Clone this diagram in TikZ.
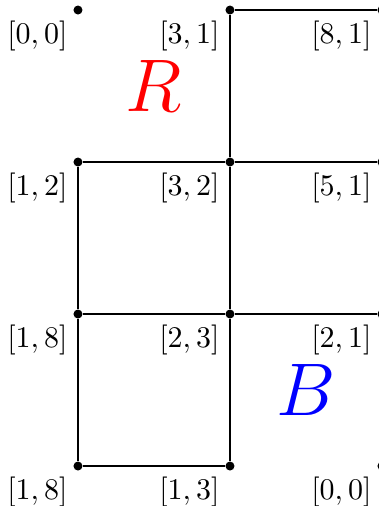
\documentclass[tikz,border=0pt]{standalone}
\usepackage{xcolor}
\usepackage{tikz}
\tikzset{
  pt/.style    = {circle, fill=black, inner sep=0pt, minimum size=3pt},
  tag/.style   = {anchor=north east, inner sep=3.33pt},
  edge/.style  = {draw=black, line width=0.45pt},
  big/.style   = {font=\Huge},
}

\begin{document}
\begin{tikzpicture}[x=1.781cm, y=1.781cm]

  \useasboundingbox (-0.513,0.066) rectangle (1.980,-3.263);

  % grid points
  \node[pt] (a0) at (0,0)  {};
  \node[pt] (b0) at (1,0)  {};
  \node[pt] (c0) at (2,0)  {};
  \node[pt] (a1) at (0,-1) {};
  \node[pt] (b1) at (1,-1) {};
  \node[pt] (c1) at (2,-1) {};
  \node[pt] (a2) at (0,-2) {};
  \node[pt] (b2) at (1,-2) {};
  \node[pt] (c2) at (2,-2) {};
  \node[pt] (a3) at (0,-3) {};
  \node[pt] (b3) at (1,-3) {};
  \node[pt] (c3) at (2,-3) {};

  % edges
  \draw[edge] (b0) -- (c0);
  \draw[edge] (b0) -- (b1);
  \draw[edge] (a1) -- (b1) -- (c1);
  \draw[edge] (a1) -- (a2) -- (a3);
  \draw[edge] (b1) -- (b2) -- (b3);
  \draw[edge] (a2) -- (b2) -- (c2);
  \draw[edge] (a3) -- (b3);

  % labels
  \node[tag] at (a0.center) {$[0,0]$};
  \node[tag] at (b0.center) {$[3,1]$};
  \node[tag] at (c0.center) {$[8,1]$};
  \node[tag] at (a1.center) {$[1,2]$};
  \node[tag] at (b1.center) {$[3,2]$};
  \node[tag] at (c1.center) {$[5,1]$};
  \node[tag] at (a2.center) {$[1,8]$};
  \node[tag] at (b2.center) {$[2,3]$};
  \node[tag] at (c2.center) {$[2,1]$};
  \node[tag] at (a3.center) {$[1,8]$};
  \node[tag] at (b3.center) {$[1,3]$};
  \node[tag] at (c3.center) {$[0,0]$};

  \node[big, red]  (red)  at (0.5,-0.5) {$R$};
  \node[big, blue] (blue) at (1.5,-2.5) {$B$};

\end{tikzpicture}
\end{document}
